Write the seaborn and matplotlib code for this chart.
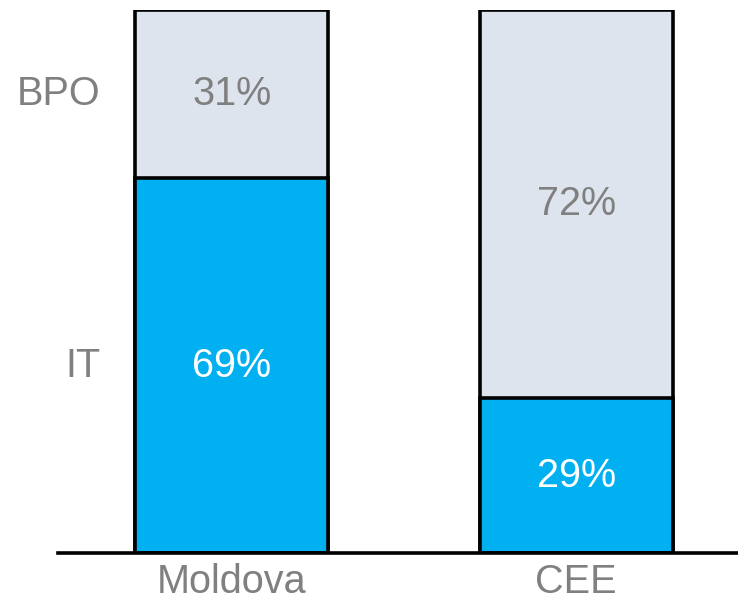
import matplotlib
matplotlib.use("Agg")
import matplotlib.pyplot as plt
import numpy             as np
import pandas            as pd
import seaborn           as sns

regions    = ["Moldova", "CEE"]
it_share   = [69, 28.5]
bpo_share  = [31, 71.5]
it_labels  = ["69%", "29%"]
bpo_labels = ["31%", "72%"]
segments   = ["BPO", "IT"]

blue  = "#00B0F0"
light = "#DEE4EE"
grey  = "#808080"
fsize = 28.5

sns.set_style("white")
plt.rcParams["font.family"] = ["Liberation Sans", "DejaVu Sans"]

df = pd.DataFrame({"region": regions,
                   "it":     it_share,
                   "total":  np.array(it_share) + np.array(bpo_share)})

fig = plt.figure(figsize = (7.38, 6.03), dpi = 100)
ax  = fig.add_axes([58 / 738, 50 / 603, 680 / 738, 543 / 603])

# Stacked bars: full height (BPO colour) underneath, IT on top of it
sns.barplot(data = df, x = "region", y = "total", color = light, ax = ax,
            width = 0.56, edgecolor = "black", linewidth = 2.6, saturation = 1)
sns.barplot(data = df, x = "region", y = "it", color = blue, ax = ax,
            width = 0.56, edgecolor = "black", linewidth = 2.6, saturation = 1)

for i in range(len(regions)):
    ax.text(i, it_share[i] / 2, it_labels[i], ha = "center", va = "center",
            color = "white", fontsize = fsize)
    ax.text(i, it_share[i] + bpo_share[i] / 2, bpo_labels[i], ha = "center",
            va = "center", color = grey, fontsize = fsize)

# Segment names beside the first bar
ax.text(-0.38, it_share[0] + bpo_share[0] / 2, segments[0], ha = "right",
        va = "center", color = grey, fontsize = fsize)
ax.text(-0.38, it_share[0] / 2, segments[1], ha = "right",
        va = "center", color = grey, fontsize = fsize)

ax.set_xlim(-0.504, 1.47)
ax.set_ylim(0, 100)
ax.set_xlabel("")
ax.set_ylabel("")
ax.set_yticks([])
ax.tick_params(axis = "x", length = 0, pad = 7, labelsize = fsize, labelcolor = grey)
for side in ["top", "right", "left"]:
    ax.spines[side].set_visible(False)
ax.spines["bottom"].set_linewidth(2.6)
ax.spines["bottom"].set_color("black")

plt.savefig("out.png", dpi = 100)
